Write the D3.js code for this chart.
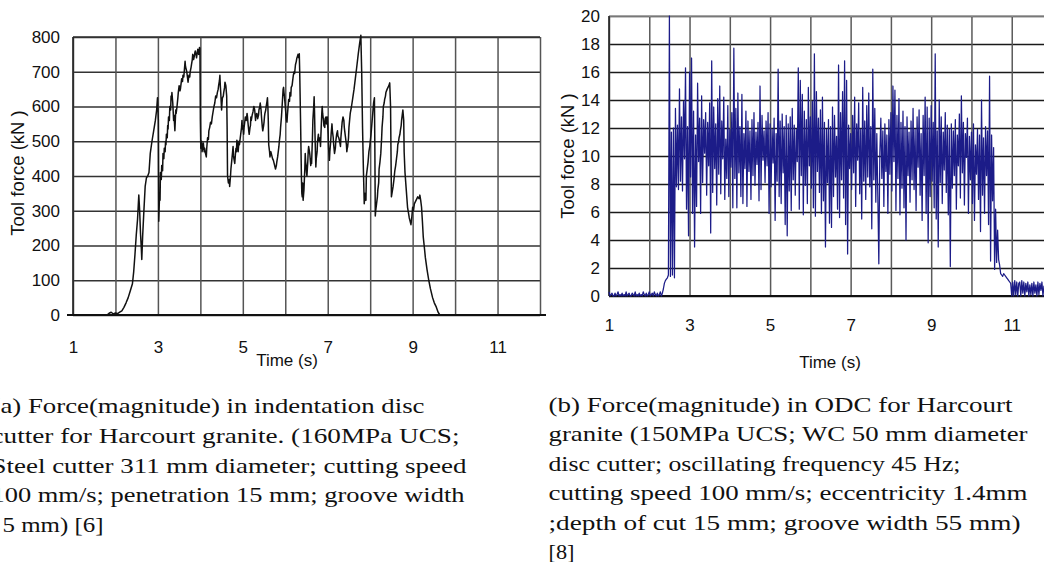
<!DOCTYPE html>
<html><head><meta charset="utf-8">
<script src="https://cdn.jsdelivr.net/npm/d3@7"></script>
<style>body{margin:0;background:#fff;overflow:hidden} svg{display:block}</style>
</head><body>
<svg id="c" width="1044" height="562"></svg>
<script>
// ---------- DATA ----------
// (a) indentation disc cutter: [time (s), force (kN)] readings
const idcReadings = [
 [1.0,0],[1.8,0],[1.85,5],[1.9,8],[1.95,3],[2.0,6],[2.05,4],[2.1,8],[2.15,12],[2.2,22],[2.25,35],[2.3,50],[2.35,70],[2.4,90],[2.43,125],[2.46,175],[2.49,230],[2.52,275],[2.55,345],[2.57,300],[2.59,235],[2.61,190],[2.62,160],[2.64,225],[2.67,300],[2.7,370],[2.73,395],[2.76,400],[2.79,410],[2.82,465],[2.86,500],[2.9,530],[2.94,560],[2.97,590],[2.99,625],[3.01,560],[3.02,270],
 [3.04,350],[3.05,330],[3.06,410],[3.08,390],[3.09,430],[3.11,415],[3.12,465],[3.14,450],[3.15,480],[3.17,470],[3.18,500],[3.19,490],[3.2,520],[3.22,510],[3.23,545],[3.24,535],[3.25,570],[3.27,560],[3.28,600],[3.3,590],[3.31,630],[3.32,620],[3.33,640],[3.35,610],[3.37,560],[3.38,575],[3.4,530],[3.42,590],[3.43,580],[3.45,600],[3.47,625],[3.48,640],[3.5,660],[3.52,645],[3.53,650],[3.55,670],[3.56,680],[3.58,672],[3.59,690],[3.61,685],[3.62,700],[3.64,730],[3.65,715],[3.66,710],[3.68,700],[3.69,690],[3.71,670],[3.72,680],[3.73,690],[3.75,685],[3.76,700],[3.78,712],[3.79,720],[3.81,735],[3.82,750],[3.84,735],[3.85,740],[3.87,755],[3.88,760],[3.9,748],[3.91,740],[3.93,758],[3.94,765],[3.96,750],[3.97,755],[3.98,770],[3.99,768],
 [4.0,560],[4.01,480],[4.03,500],[4.04,470],[4.06,485],[4.07,495],[4.09,470],[4.1,480],[4.12,465],[4.14,455],[4.15,480],[4.17,510],[4.19,505],[4.2,530],[4.22,540],[4.24,555],[4.26,550],[4.28,570],[4.3,585],[4.32,600],[4.34,610],[4.36,630],[4.38,625],[4.4,640],[4.42,650],[4.43,660],[4.45,675],[4.46,690],[4.47,660],[4.48,640],[4.5,590],[4.51,610],[4.52,625],[4.54,630],[4.55,640],[4.57,655],[4.58,670],[4.6,660],[4.62,630],[4.63,540],[4.64,400],
 [4.66,380],[4.68,390],[4.69,370],[4.71,400],[4.72,420],[4.74,445],[4.76,470],[4.77,485],[4.78,460],[4.79,450],[4.81,436],[4.83,470],[4.84,480],[4.85,470],[4.86,503],[4.88,490],[4.89,470],[4.91,500],[4.92,490],[4.94,510],[4.95,520],[4.97,540],[4.98,560],[4.99,535],[5.0,545],[5.02,520],[5.03,540],[5.05,560],[5.06,570],[5.08,560],[5.1,580],[5.11,570],[5.12,555],[5.14,530],[5.15,520],[5.17,540],[5.18,545],[5.19,570],[5.2,560],[5.22,575],[5.24,585],[5.26,600],[5.28,590],[5.3,560],[5.31,575],[5.33,580],[5.35,565],[5.37,575],[5.38,590],[5.4,600],[5.41,610],[5.43,590],[5.44,570],[5.46,540],[5.47,530],[5.49,545],[5.5,555],[5.51,570],[5.52,580],[5.54,590],[5.55,600],[5.57,615],[5.58,625],[5.59,600],[5.6,560],
 [5.61,490],[5.63,470],[5.64,455],[5.66,470],[5.68,460],[5.7,450],[5.72,445],[5.74,435],[5.75,430],[5.77,420],[5.79,430],[5.8,440],[5.82,455],[5.83,465],[5.85,485],[5.86,500],[5.88,520],[5.89,540],[5.91,570],[5.92,590],[5.93,610],[5.94,630],[5.95,650],[5.96,655],[5.97,640],[5.98,630],[5.99,615],[6.0,600],[6.01,585],[6.02,570],[6.03,560],[6.04,555],[6.05,575],[6.06,590],[6.07,605],[6.08,620],[6.1,615],[6.11,640],[6.13,630],[6.14,655],[6.16,660],[6.17,670],[6.19,690],[6.21,700],[6.22,695],[6.24,720],[6.26,730],[6.27,738],[6.29,745],[6.3,750],[6.32,740],[6.33,752],[6.34,700],
 [6.36,560],[6.38,400],[6.39,350],[6.4,340],[6.41,380],[6.42,330],[6.43,345],[6.44,360],[6.46,420],[6.47,465],[6.48,440],[6.49,430],[6.5,410],[6.51,400],[6.52,420],[6.53,440],[6.54,470],[6.55,485],[6.57,470],[6.58,460],[6.59,445],[6.6,430],[6.61,450],[6.62,436],[6.64,510],[6.65,560],[6.67,600],[6.68,628],[6.69,580],[6.7,520],[6.71,470],[6.72,426],[6.73,450],[6.75,470],[6.76,500],[6.78,520],[6.79,505],[6.8,500],[6.82,510],[6.83,485],[6.84,520],[6.85,550],[6.86,580],[6.87,600],[6.88,580],[6.9,560],[6.91,545],[6.93,540],[6.94,565],[6.96,570],[6.97,550],[6.99,570],[7.0,545],[7.01,520],[7.02,480],[7.04,445],[7.05,470],[7.07,500],[7.08,520],[7.1,550],[7.11,530],[7.13,510],[7.14,490],[7.16,465],[7.18,480],[7.19,500],[7.21,520],[7.23,530],[7.24,515],[7.26,510],[7.28,500],[7.3,485],[7.31,510],[7.33,540],[7.34,555],[7.36,570],[7.38,560],[7.39,540],[7.41,520],[7.42,510],[7.44,490],[7.45,470],[7.46,480],[7.47,485],[7.49,510],[7.5,540],
 [7.53,580],[7.56,600],[7.59,625],[7.62,650],[7.65,680],[7.68,710],[7.72,752],[7.75,780],[7.78,805],[7.8,700],[7.82,540],[7.84,420],[7.86,320],[7.88,350],[7.9,330],[7.91,400],[7.93,420],[7.95,440],[7.97,470],[7.99,485],[8.02,520],[8.04,550],[8.06,580],[8.08,610],[8.1,625],[8.11,480],[8.12,285],[8.13,300],[8.15,320],[8.17,340],[8.18,360],[8.2,380],[8.21,420],[8.23,440],[8.25,465],[8.27,510],[8.28,540],[8.3,570],[8.31,600],[8.33,610],[8.34,620],[8.36,630],[8.37,640],[8.4,650],[8.42,655],[8.44,660],[8.46,668],[8.48,600],[8.5,340],[8.52,355],[8.54,370],[8.56,390],[8.58,415],[8.6,430],[8.62,450],[8.64,470],[8.65,490],[8.67,500],[8.68,510],[8.7,520],[8.71,530],[8.73,545],[8.74,560],[8.76,580],[8.77,590],[8.79,560],[8.8,470],[8.82,410],[8.85,360],[8.88,310],[8.9,295],[8.92,280],[8.94,270],[8.96,260],[8.98,280],[9.0,310],[9.02,300],[9.04,320],[9.06,325],[9.08,330],[9.1,335],[9.12,340],[9.15,335],[9.17,345],[9.19,330],[9.21,310],[9.23,270],[9.25,225],[9.28,190],[9.3,165],[9.34,130],[9.38,100],[9.42,75],[9.47,50],[9.51,35],[9.55,25],[9.6,8],[9.64,0],[12.0,0]
];

// (b) ODC, uniformly sampled force (kN) starting at odcStart (s) every odcStep (s)
const odcStart = 1.0;
const odcStep = 0.025;
const odcForce = [
  0.3,0,0.1,0.2,0,0,0.2,0,0.1,0.3,
  0,0.1,0,0.2,0,0.1,0,0.3,0,0.1,
  0.2,0,0,0.2,0.1,0,0.3,0,0.1,0,
  0.2,0,0.1,0,0.3,0.1,0,0.2,0,0.1,
  0.3,0,0.1,0.2,0,0.3,0.1,0,0.2,0,
  0.1,0.3,0,0.2,
  0.5,0.9,1.1,1.2,1.3,1.5,
  20,1.4,11.7,1.5,12,1.3,13.4,7.8,12.2,7.6,14.8,8.2,12.8,7.5,13.9,9.8,16.3,6.2,12.1,4.3,
  16,8.5,17,5.9,13.2,3.5,11.5,6.4,15.2,9.6,12.7,5.9,14.3,8.1,12.6,10.2,13.1,7.2,12.4,9.3,
  13.8,4.5,16.8,7.4,13.5,9.1,12.3,6.5,14.1,8.7,15,7.3,12.5,9.8,14.2,6.9,11.2,8.4,13.6,7.1,
  11.9,9.2,13.1,6.3,17.7,8.4,13.4,6.3,14.5,8.8,12.1,7.1,14.4,6.6,11.6,9.1,13.2,6.4,12.5,8.9,
  11.8,6.9,12.6,8.6,13.1,7.9,11.7,9.4,12.4,6.8,15,7.6,12.9,9.7,11.8,8.1,12.5,9.3,13.1,5.9,
  12.3,7.8,11.9,9.5,12.7,5.4,11.6,8.2,16.2,7.1,12.5,6.6,13,8.8,12.1,5.1,12.9,4.3,12.3,7.5,
  12.8,6.1,13.4,8.3,12.2,7.2,11.9,9.6,16.3,6.2,15.4,8.6,14.4,5.8,13.2,7.9,12.6,6.6,14.9,9.3,
  12.8,7.7,13.9,6.3,17.3,5.7,14.6,8.9,12.7,7.4,13.3,5.9,14.2,6.8,12.4,3.5,11.9,8.1,12.6,5.2,
  12.1,4.9,13.5,7.1,12.9,8.5,11.4,6.2,16.5,5.6,13.1,8.3,14.6,7.0,16.8,5.1,15.4,3.0,12.2,9.1,
  11.6,7.6,12.9,8.8,14.2,6.4,12.3,9.7,13.8,7.3,11.9,5.5,14.9,8.2,12.5,6.9,13.6,8.5,14.5,7.8,
  12.1,4.8,16.2,8.3,13.4,6.7,11.6,7.2,2.3,10.2,12.7,8.4,11.8,6.4,12.3,8.9,11.5,5.9,12.6,8.7,
  13.1,7.5,15,9.6,14.7,6.1,12.9,8.4,14.1,5.8,12.4,7.7,13.2,6.3,12.1,4.0,12.8,8.6,11.7,6.7,
  12.5,8.3,13.4,7.6,11.9,6.1,12.8,9.2,13.3,7.2,11.6,5.4,12.9,8.6,14.2,5.9,13.5,3.8,12.7,7.1,
  13.6,8.2,12.4,6.3,17.3,5.5,11.8,3.5,14.0,8.1,12.8,6.6,11.7,9.0,13.1,7.4,12.2,5.8,11.9,2.1,
  12.3,7.7,11.8,8.6,12.6,6.2,11.5,9.3,13.0,7.0,14.3,8.8,12.4,6.5,11.6,9.9,12.7,5.9,11.4,8.3,
  11.7,6.6,12.3,5.4,10.8,8.7,11.9,6.9,11.5,4.6,14.0,7.2,11.3,5.9,12.1,8.6,11.8,5.1,15.7,2.5,
  11.5,6.8,10.6,1.9,6.2,2.4,4.7,2.6,2.2,1.6,1.5,1.4,1.6,1.5,1.4,1.3,1.2,1.1,1.0,0.9,
  0,1.0,0,1.1,0.1,1.0,0,0.9,1.0,0,1.1,0.2,1.0,0,0.9,0.3,1.0,0,0.8,0.1,
  0.9,0,1.0,0.2,0.8,0,1.0,0.1,0.9,0.4,1.0,0,0.7,0.2,0.9,0,0.6,0.3,0.8,0.1,0.5
];

const timeTickLabels = [1,3,5,7,9,11];
const idcForceTicks = [0,100,200,300,400,500,600,700,800];
const odcForceTicks = [0,2,4,6,8,10,12,14,16,18,20];
const xTitle = "Time (s)";
const yTitle = "Tool force (kN )";
const captionA = [
  "(a) Force(magnitude) in indentation disc",
  "cutter for Harcourt granite. (160MPa UCS;",
  "Steel cutter 311 mm diameter; cutting speed",
  "100 mm/s; penetration 15 mm; groove width",
  "5 mm) [6]"
];
const captionB = [
  "(b) Force(magnitude) in ODC for Harcourt",
  "granite (150MPa UCS; WC 50 mm diameter",
  "disc cutter; oscillating frequency 45 Hz;",
  "cutting speed 100 mm/s; eccentricity 1.4mm",
  ";depth of cut 15 mm; groove width 55 mm)",
  "[8]"
];

// ---------- DRAWING ----------
const svg = d3.select('#c');
svg.append('rect').attr('width',1044).attr('height',562).attr('fill','#fff');
const sans = "'Liberation Sans', Arial, sans-serif";

function panel(cfg) {
  const g = svg.append('g');
  const x = d3.scaleLinear().domain([1,12]).range([cfg.x0, cfg.x1]);
  const y = d3.scaleLinear().domain(cfg.yDomain).range([cfg.y0, cfg.y1]);
  g.append('g').attr('transform',`translate(${cfg.x0},0)`)
    .call(d3.axisLeft(y).tickValues(cfg.yTicks).tickSize(-(cfg.x1-cfg.x0)).tickFormat(''))
    .call(s=>s.select('.domain').remove())
    .call(s=>s.selectAll('line').attr('stroke',cfg.hGrid).attr('stroke-width',1.6));
  g.append('g').attr('transform',`translate(0,${cfg.y0})`)
    .call(d3.axisBottom(x).tickValues(d3.range(1,13)).tickSize(-(cfg.y0-cfg.y1)).tickFormat(''))
    .call(s=>s.select('.domain').remove())
    .call(s=>s.selectAll('line').attr('stroke',cfg.vGrid).attr('stroke-width',1.5));
  g.append('line').attr('x1',cfg.x0).attr('x2',cfg.x1).attr('y1',y(cfg.yDomain[1])).attr('y2',y(cfg.yDomain[1]))
    .attr('stroke',cfg.topColor).attr('stroke-width',1.5);
  g.append('line').attr('x1',cfg.x0).attr('x2',cfg.x0).attr('y1',cfg.y1).attr('y2',cfg.y0)
    .attr('stroke','#222').attr('stroke-width',1.6);
  g.append('line').attr('x1',cfg.x0-cfg.axisExt).attr('x2',cfg.x1+cfg.axisExt).attr('y1',cfg.y0).attr('y2',cfg.y0)
    .attr('stroke','#111').attr('stroke-width',2);
  g.append('path').datum(cfg.data)
    .attr('fill','none').attr('stroke',cfg.lineColor).attr('stroke-width',cfg.lineWidth)
    .attr('stroke-linejoin','round')
    .attr('d', d3.line().x(d=>x(d[0])).y(d=>y(d[1])));
  g.append('g').attr('transform',`translate(${cfg.x0},0)`)
    .call(d3.axisLeft(y).tickValues(cfg.yTicks).tickSize(0).tickPadding(cfg.yPad))
    .call(s=>s.select('.domain').remove())
    .call(s=>s.selectAll('text').attr('font-family',sans).attr('font-size',17).attr('fill','#111'));
  g.append('g').attr('transform',`translate(0,${cfg.y0})`)
    .call(d3.axisBottom(x).tickValues(timeTickLabels).tickSize(0).tickPadding(cfg.xPad))
    .call(s=>s.select('.domain').remove())
    .call(s=>s.selectAll('text').attr('font-family',sans).attr('font-size',17).attr('fill','#111'));
  g.append('text').attr('x',cfg.xtX).attr('y',cfg.xtY).attr('text-anchor','middle')
    .attr('font-family',sans).attr('font-size',17).attr('fill','#111').text(xTitle);
  g.append('text').attr('transform',`translate(${cfg.ytX},${cfg.ytY}) rotate(-90)`).attr('text-anchor','middle')
    .attr('font-family',sans).attr('font-size',18.5).attr('fill','#111').text(yTitle);
}

panel({
  x0:73, x1:540, y0:315, y1:37, yDomain:[0,800], yTicks:idcForceTicks,
  data: idcReadings,
  lineColor:'#111', lineWidth:1.5, hGrid:'#333', vGrid:'#555', topColor:'#333', axisExt:6,
  yPad:13, xPad:26, xtX:287, xtY:366, ytX:24, ytY:173
});
panel({
  x0:609, x1:1052, y0:296, y1:16, yDomain:[0,20], yTicks:odcForceTicks,
  data: odcForce.map((v,i)=>[odcStart + i*odcStep, v]),
  lineColor:'#1c1c88', lineWidth:1.25, hGrid:'#1a1a1a', vGrid:'#5a5a5a', topColor:'#999', axisExt:0,
  yPad:9, xPad:23, xtX:830, xtY:368, ytX:574, ytY:156
});

// captions
const serif = "'Liberation Serif', 'Times New Roman', serif";
const capAWidths = [433, 468, 475, 473, 101];
const capBWidths = [464, 479, 412, 479, 472, 26];
captionA.forEach((s,i)=>{
  svg.append('text').attr('x', i===4 ? 2.5 : -8.5).attr('y', 413 + i*29.8)
    .attr('font-family',serif).attr('font-size',22).attr('fill','#111')
    .attr('textLength',capAWidths[i]).attr('lengthAdjust','spacingAndGlyphs').text(s);
});
captionB.forEach((s,i)=>{
  svg.append('text').attr('x',548.5).attr('y', 412 + i*29.4)
    .attr('font-family',serif).attr('font-size',22).attr('fill','#111')
    .attr('textLength',capBWidths[i]).attr('lengthAdjust','spacingAndGlyphs').text(s);
});
</script>
</body></html>
